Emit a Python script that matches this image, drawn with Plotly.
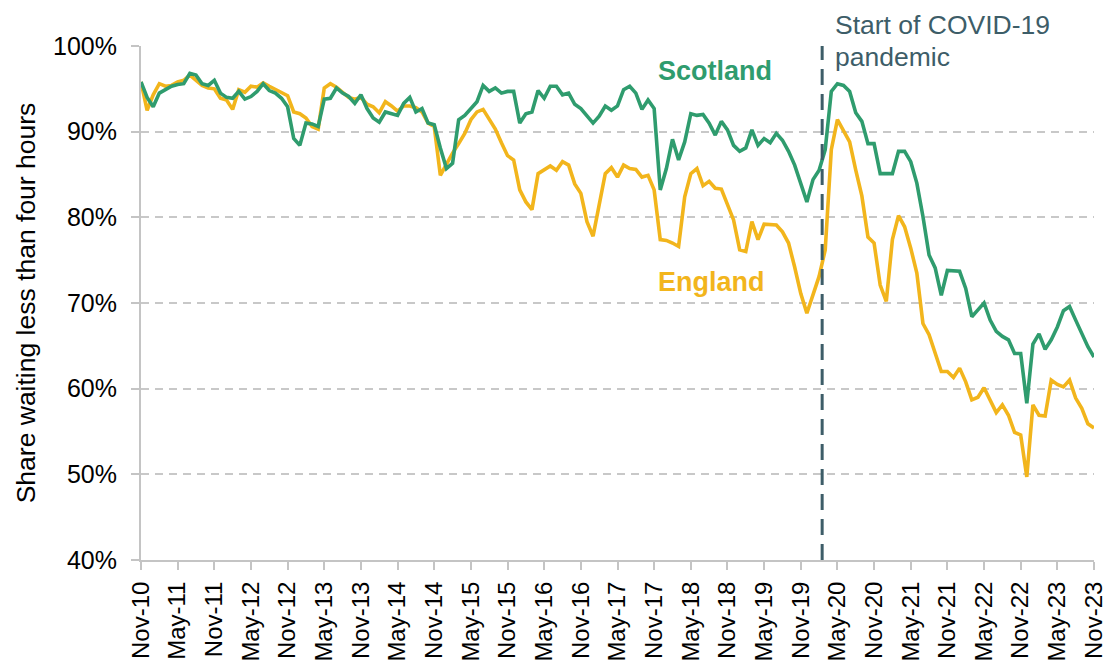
import pandas as pd
import plotly.graph_objects as go

# Monthly, Nov-2010 .. Nov-2023 (157 months)
months = pd.date_range("2010-11-01", "2023-11-01", freq="MS")
month_labels = [d.strftime("%b-%y") for d in months]

scotland = [
    95.8, 94.0, 92.9, 94.5, 94.9, 95.3, 95.5, 95.6, 96.8, 96.6, 95.6, 95.4,
    96.0, 94.5, 94.0, 93.9, 94.7, 93.8, 94.1, 94.7, 95.6, 94.8, 94.5, 93.9,
    92.9, 89.2, 88.4, 91.0, 90.9, 90.6, 93.8, 93.9, 95.1, 94.5, 94.1, 93.3,
    94.3, 92.7, 91.6, 91.1, 92.3, 92.1, 91.9, 93.3, 94.0, 92.3, 92.7, 91.0,
    90.8, 88.1, 85.7, 86.3, 91.4, 91.9, 92.7, 93.5, 95.4, 94.7, 95.1, 94.5,
    94.7, 94.7, 91.0, 92.1, 92.3, 94.8, 93.9, 95.3, 95.3, 94.3, 94.5, 93.2,
    92.7, 91.8, 91.0, 91.8, 93.0, 92.5, 93.0, 94.9, 95.3, 94.5, 92.6, 93.7,
    92.7, 83.2, 85.7, 89.1, 86.7, 88.8, 92.1, 91.9, 92.0, 91.0, 89.6, 91.2,
    90.2, 88.4, 87.7, 88.1, 90.2, 88.4, 89.2, 88.7, 89.8, 89.0, 87.7, 86.1,
    83.8, 81.8, 84.4, 85.5, 87.9, 94.7, 95.6, 95.4, 94.7, 92.2, 91.2, 88.6,
    88.6, 85.1, 85.1, 85.1, 87.7, 87.7, 86.5, 84.0, 80.1, 75.6, 74.1, 70.9,
    73.8, 73.8, 73.7, 71.7, 68.4, 69.2, 70.0, 68.0, 66.7, 66.1, 65.7, 64.1,
    64.1, 58.3, 65.2, 66.4, 64.6, 65.7, 67.2, 69.1, 69.6, 68.0, 66.5, 64.9,
    63.7,
]

england = [
    95.8, 92.5, 94.3, 95.6, 95.3, 95.4, 95.8, 96.0, 96.6, 96.0, 95.4, 95.1,
    95.0, 93.9, 93.7, 92.6, 94.9, 94.6, 95.3, 95.2, 95.7, 95.3, 94.9, 94.5,
    94.2, 92.3, 92.1, 91.6, 90.6, 90.3, 95.1, 95.6, 95.2, 94.6, 94.0, 93.8,
    94.0, 93.2, 92.9, 92.2, 93.5, 93.0, 92.4, 93.0, 93.0, 92.8, 92.3, 91.0,
    90.6, 84.9, 86.3, 87.5, 88.6, 89.8, 91.4, 92.3, 92.6, 91.4, 90.3, 88.7,
    87.2, 86.7, 83.2, 81.8, 80.9, 85.1, 85.5, 86.0, 85.5, 86.5, 86.1, 83.9,
    82.8, 79.5, 77.8, 81.6, 85.1, 85.8, 84.7, 86.1, 85.7, 85.6, 84.7, 84.9,
    83.2, 77.4, 77.3, 77.0, 76.6, 82.4, 85.1, 85.7, 83.7, 84.2, 83.4, 83.3,
    81.6, 79.7, 76.2, 76.0, 79.5, 77.4, 79.2, 79.1, 79.1, 78.3, 77.0, 74.2,
    71.1, 68.8, 71.1, 73.1, 76.2, 87.9, 91.4, 90.2, 88.8, 85.5, 82.5, 77.7,
    77.0, 72.1, 70.2, 77.4, 80.2, 78.9, 76.4, 73.5, 67.6, 66.3, 64.1, 62.0,
    62.0, 61.3, 62.4, 60.8, 58.7, 59.0, 60.1, 58.7, 57.2, 58.1, 56.9, 54.9,
    54.6, 49.7, 58.1, 56.9, 56.8, 61.0, 60.5, 60.2, 61.0, 58.9, 57.7, 55.9,
    55.4,
]

y_ticks = [40, 50, 60, 70, 80, 90, 100]
y_tick_labels = ["40%", "50%", "60%", "70%", "80%", "90%", "100%"]
covid_start_index = 111.5  # between Feb-20 and Mar-20

GREEN = "#2f9c6e"
YELLOW = "#f2b51c"
SLATE = "#3d5d68"
AXIS_GREY = "#c4c4c4"
FONT = "Arial, 'Liberation Sans', sans-serif"

x_idx = list(range(len(month_labels)))
tick_idx = x_idx[::6]
tick_text = month_labels[::6]

fig = go.Figure()
fig.add_trace(go.Scatter(x=x_idx, y=england, mode="lines", name="England",
                         line=dict(color=YELLOW, width=3.6), showlegend=False))
fig.add_trace(go.Scatter(x=x_idx, y=scotland, mode="lines", name="Scotland",
                         line=dict(color=GREEN, width=3.6), showlegend=False))

fig.add_shape(type="line", xref="x", yref="paper", x0=covid_start_index, x1=covid_start_index,
              y0=0, y1=1, line=dict(color=SLATE, width=3, dash="16px,9px"))

fig.add_annotation(x=93.9, y=97.1, xref="x", yref="y", text="<b>Scotland</b>",
                   showarrow=False, font=dict(color=GREEN, size=27, family=FONT))
fig.add_annotation(x=93.4, y=72.45, xref="x", yref="y", text="<b>England</b>",
                   showarrow=False, font=dict(color=YELLOW, size=27, family=FONT))
fig.add_annotation(x=113.3, y=1.041, xref="x", yref="paper", text="Start of COVID-19",
                   showarrow=False, xanchor="left", yanchor="middle",
                   font=dict(color=SLATE, size=26.5, family=FONT))
fig.add_annotation(x=113.3, y=0.9786, xref="x", yref="paper", text="pandemic",
                   showarrow=False, xanchor="left", yanchor="middle",
                   font=dict(color=SLATE, size=26.5, family=FONT))

fig.update_layout(
    width=1106, height=664,
    margin=dict(l=141, r=12, t=46, b=104),
    paper_bgcolor="white", plot_bgcolor="white",
    font=dict(family=FONT, size=25, color="#000000"),
)
fig.update_xaxes(
    range=[0, 156], tickmode="array", tickvals=tick_idx, ticktext=tick_text,
    tickangle=-90, showgrid=False, zeroline=False,
    showline=True, linecolor=AXIS_GREY, linewidth=2,
    ticks="outside", ticklen=8, tickcolor=AXIS_GREY, tickwidth=2,
    ticklabelstandoff=2, automargin=False, ticklabeloverflow="allow",
    tickfont=dict(size=24, family=FONT, color="#000000"),
)
fig.update_yaxes(
    range=[40, 100], tickmode="array", tickvals=y_ticks, ticktext=y_tick_labels,
    showgrid=True, gridcolor="#c8c8c8", griddash="8px,6px", gridwidth=2,
    zeroline=False, showline=True, linecolor=AXIS_GREY, linewidth=2,
    ticks="outside", ticklen=8, tickcolor=AXIS_GREY, tickwidth=2,
    ticklabelstandoff=9, automargin=False,
    tickfont=dict(size=25, family=FONT, color="#000000"),
    title=dict(text="Share waiting less than four hours", font=dict(size=26.5, family=FONT),
               standoff=10),
)

fig.write_html("out.html", config={"displayModeBar": False},
               post_script="document.body.style.margin='0';")
